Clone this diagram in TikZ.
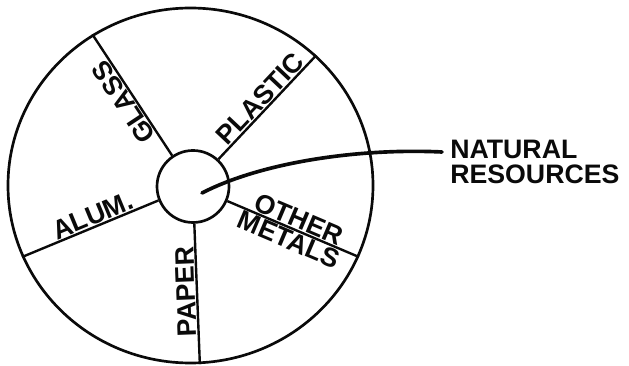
\documentclass[tikz,border=0pt]{standalone}
\usepackage{fontspec}
\setsansfont{Liberation Sans}
\usetikzlibrary{shapes.geometric}
\definecolor{ink}{HTML}{0A0A0A}
\tikzset{
  rim/.style={draw=ink, line width=1.9pt, inner sep=0pt},
  spoke/.style={draw=ink, line width=1.7pt},
  tag/.style={font=\sffamily\bfseries\fontsize{19}{18}\selectfont, text=ink, inner sep=0pt, sloped, allow upside down},
  lead/.style={draw=ink, line width=2.6pt, line cap=round}
}
\begin{document}
\begin{tikzpicture}
\useasboundingbox (0,0) rectangle (15.725,9.15);
\node[rim, ellipse, minimum width=9.125cm, minimum height=8.875cm] (wheel) at (4.7625,4.5125) {};
\node[rim, circle, minimum size=1.8cm] (hub) at (4.825,4.4875) {};
% spokes with their labels
\draw[spoke] (hub.124.2) -- (wheel.123.9) node[tag, pos=0.49, above=0.5pt] (glass) {GLASS};
\draw[spoke] (hub.47.4) -- (wheel.46.4) node[tag, pos=0.51, above=0.5pt] (plastic) {PLASTIC};
\draw[spoke] (wheel.203.5) -- (hub.202.6) node[tag, pos=0.55, above=0.5pt] (alum) {ALUM.};
\draw[spoke] (wheel.273) -- (hub.272.3) node[tag, pos=0.52, above=0.5pt] (paper) {PAPER};
\draw[spoke] (hub.337.4) -- (wheel.337.1)
  node[tag, pos=0.51, above=0.5pt] (other) {OTHER}
  node[tag, pos=0.50, below=0.5pt] (metals) {METALS};
% pointer
\node[font=\sffamily\bfseries\fontsize{19}{18}\selectfont, text=ink, inner sep=0pt, anchor=west, align=left] (nr) at (11.25,5.11) {NATURAL\\RESOURCES};
\coordinate (tip) at (5.05,4.325);
\coordinate (end) at (11.05,5.35);
\draw[lead] (tip) .. controls (6.55,5.1) and (9.0,5.45) .. (end);
\end{tikzpicture}
\end{document}
